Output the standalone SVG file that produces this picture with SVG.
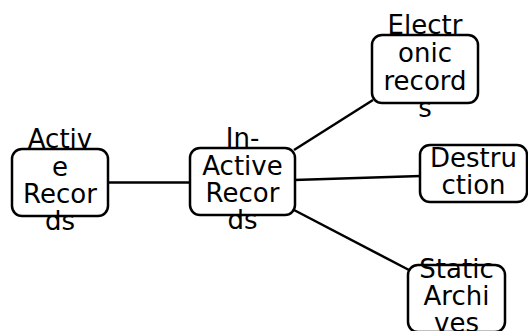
<svg xmlns="http://www.w3.org/2000/svg" width="528" height="331" viewBox="0 0 528 331">
<style>
.box{fill:#fff;stroke:#000;stroke-width:2.5}
.edge{stroke:#000;stroke-width:2.5;fill:none}
text{font-family:"DejaVu Sans",sans-serif;font-size:26px;fill:#000;text-anchor:middle}
</style>
<rect width="528" height="331" fill="#fff"/>
<g id="connectors">
<line class="edge" x1="107" y1="182.5" x2="191" y2="182.5"/>
<line class="edge" x1="294" y1="150" x2="373" y2="100"/>
<line class="edge" x1="294" y1="180" x2="421" y2="176"/>
<line class="edge" x1="294" y1="210" x2="409" y2="270"/>
</g>
<g id="active">
<rect class="box" x="12" y="149" width="96" height="67" rx="10"/>
<text x="60" y="148">Activ</text>
<text x="60" y="176">e</text>
<text x="60" y="203">Recor</text>
<text x="60" y="230">ds</text>
</g>
<g id="inactive">
<rect class="box" x="190" y="148" width="105" height="67" rx="10"/>
<text x="242.5" y="147">In-</text>
<text x="242.5" y="175">Active</text>
<text x="242.5" y="202">Recor</text>
<text x="242.5" y="229">ds</text>
</g>
<g id="electronic">
<rect class="box" x="372" y="35" width="106" height="68" rx="10"/>
<text x="425" y="34">Electr</text>
<text x="425" y="62">onic</text>
<text x="425" y="90">record</text>
<text x="425" y="117">s</text>
</g>
<g id="destruction">
<rect class="box" x="420" y="145" width="107" height="57" rx="10"/>
<text x="473.5" y="167">Destru</text>
<text x="473.5" y="194">ction</text>
</g>
<g id="static">
<rect class="box" x="408" y="265" width="97" height="67" rx="10"/>
<text x="456.5" y="278">Static</text>
<text x="456.5" y="305">Archi</text>
<text x="456.5" y="332">ves</text>
</g>
</svg>
